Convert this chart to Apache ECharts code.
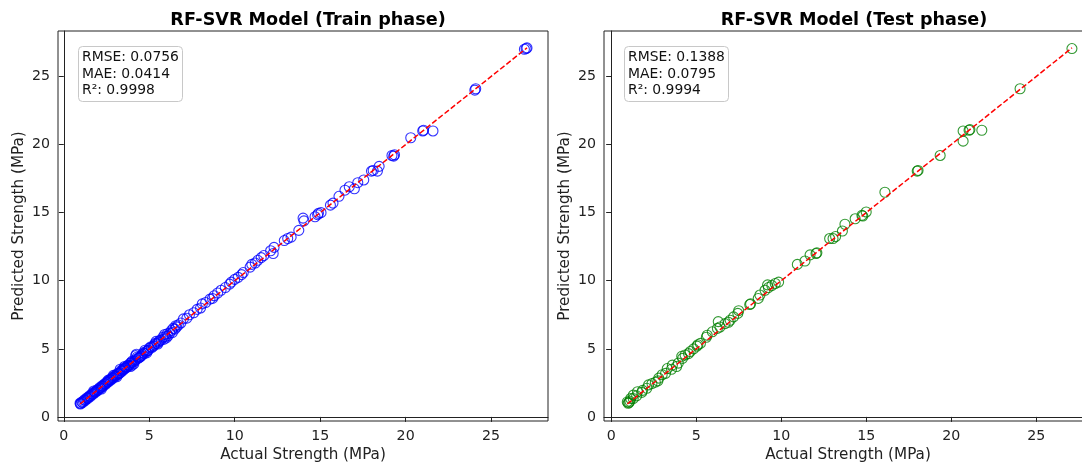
<!DOCTYPE html>
<html>
<head>
<meta charset="utf-8">
<title>RF-SVR Model</title>
<script src="https://cdn.jsdelivr.net/npm/echarts@6/dist/echarts.min.js"></script>
<style>
  html, body { margin: 0; padding: 0; background: #fff; }
  #main { width: 1082px; height: 462px; }
</style>
</head>
<body>
<div id="main"></div>
<script>
// [actual, predicted] pairs
var trainPoints = [
  [27.05,27.05],[27.1,27.1],[26.95,27.0],
  [24.05,24.0],[24.1,24.1],
  [21.0,21.0],[21.05,21.05],[21.6,21.0],[20.3,20.5],
  [19.2,19.2],[19.35,19.25],[19.3,19.15],
  [18.45,18.4],[18.35,18.05],[18.1,18.1],[18.0,18.05],
  [17.55,17.4],[17.2,17.2],[17.0,16.75],[16.7,16.9],[16.45,16.65],[16.1,16.2],
  [15.75,15.7],[15.6,15.55],[15.05,15.0],[14.9,14.95],[14.7,14.7],[14.85,14.85],
  [14.0,14.6],[14.05,14.4],[13.75,13.7],[13.1,13.1],[12.9,12.95],[13.3,13.2],
  [12.3,12.45],[12.1,12.2],[12.25,12.0],[11.55,11.7],[11.35,11.5],[11.0,11.2],[10.9,11.0],[11.7,11.85],[11.2,11.3],
  [10.5,10.6],[10.2,10.25],[10.4,10.45],[10.0,10.1],[9.8,9.9],[9.7,9.75],[9.45,9.5],[9.2,9.3],[9.0,9.1],
  [8.8,8.9],[8.7,8.7],[8.55,8.65],[8.3,8.4],[8.1,8.3],[8.0,8.0],[7.8,7.9],[7.6,7.65],[7.35,7.5],[7.2,7.25],[7.0,7.2],[6.85,6.9],
  [6.7,6.75],[6.6,6.6],[6.5,6.45],[6.4,6.5],[6.3,6.35],[6.2,6.15],[6.1,5.95],[6.05,6.1],[6.0,5.8],[5.95,5.9],
  [5.85,5.7],[5.8,5.85],[5.7,5.65],[5.6,5.6],[5.55,5.5],[5.5,5.35],[5.45,5.4],[5.35,5.4],[5.3,5.3],[5.25,5.2],
  [5.15,5.1],[5.1,5.15],[5.0,5.05],[4.95,4.9],[4.9,4.85],[4.8,4.8],[4.75,4.9],[4.7,4.65],[4.65,4.7],[4.6,4.6],
  [4.55,4.5],[4.5,4.45],[4.45,4.4],[4.4,4.35],[4.35,4.3],[4.3,4.4],[4.25,4.6],[4.2,4.2],[4.2,4.5],[4.15,4.1],
  [4.1,3.9],[4.05,4.0],[4.0,3.8],[4.0,4.1],[3.95,4.0],[3.9,3.95],[3.9,3.7],[3.85,3.8],[3.8,3.75],[3.75,3.8],
  [3.7,3.7],[3.65,3.6],[3.6,3.65],[3.55,3.55],[3.5,3.45],[3.45,3.5],[3.4,3.35],[3.35,3.4],[3.3,3.25],[3.3,3.5],
  [3.25,3.2],[3.2,3.15],[3.15,3.2],[3.1,3.1],[3.05,3.0],[3.0,3.05],[2.95,2.95],[2.9,2.85],[2.9,3.05],[2.85,2.9],
  [2.8,2.8],[2.75,2.7],[2.7,2.75],[2.65,2.65],[2.6,2.55],[2.55,2.6],[2.5,2.5],[2.45,2.4],[2.4,2.45],[2.35,2.35],
  [2.3,2.25],[2.25,2.3],[2.2,2.2],[2.15,2.1],[2.1,2.15],[2.05,2.05],[2.0,1.95],[1.95,2.0],[1.9,1.9],[1.85,1.8],
  [1.8,1.85],[1.75,1.75],[1.7,1.65],[1.65,1.7],[1.6,1.6],[1.55,1.5],[1.5,1.55],[1.45,1.45],[1.4,1.35],[1.35,1.4],
  [1.3,1.3],[1.25,1.2],[1.2,1.25],[1.15,1.15],[1.1,1.05],[1.05,1.1],[1.0,1.0],[0.95,1.0],[0.97,0.95],
  [5.9,6.05],[5.4,5.55],[4.85,4.7],[3.55,3.7],[3.1,2.95],[2.6,2.7],[2.2,2.05],[1.75,1.9],[6.55,6.7],[6.35,6.2]
];
var testPoints = [
  [27.1,27.05],
  [24.05,24.1],
  [20.7,21.0],[21.05,21.05],[21.1,21.1],[21.8,21.05],[20.7,20.25],
  [19.35,19.2],
  [18.0,18.05],[18.05,18.1],
  [16.1,16.5],
  [15.0,15.05],[14.75,14.8],[14.8,14.75],[14.35,14.55],[13.75,14.15],[13.6,13.65],[13.2,13.25],[13.05,13.1],[12.85,13.1],
  [12.1,12.05],[12.05,12.0],[11.7,11.9],[11.4,11.45],[10.95,11.2],
  [9.85,9.9],[9.65,9.8],[9.45,9.65],[9.2,9.7],[9.25,9.5],[9.05,9.3],[8.75,8.95],[8.65,8.7],[8.2,8.3],[8.15,8.25],
  [7.5,7.8],[7.45,7.6],[7.2,7.35],[7.0,7.1],[6.9,6.95],[6.7,6.85],[6.3,7.0],[6.25,6.5],[6.4,6.6],[5.95,6.25],[5.65,6.0],[5.6,5.85],
  [5.25,5.4],[5.1,5.3],[5.05,5.2],[4.85,5.0],[4.65,4.8],[4.55,4.65],[4.35,4.55],[4.2,4.3],[4.15,4.45],
  [3.95,3.95],[3.85,3.7],[3.6,3.8],[3.55,3.5],[3.3,3.55],[3.2,3.2],[3.0,3.1],[2.8,2.85],[2.75,2.65],[2.6,2.55],
  [2.4,2.45],[2.2,2.35],[2.1,2.1],[1.85,1.95],[1.8,1.8],[1.55,1.85],[1.5,1.55],[1.3,1.6],[1.3,1.35],[1.15,1.35],
  [1.1,1.15],[0.95,1.1],[1.0,1.0],[1.05,1.05]
];
var metricNames = ['RMSE', 'MAE', 'R²'];
var trainMetrics = ['0.0756', '0.0414', '0.9998'];
var testMetrics = ['0.1388', '0.0795', '0.9994'];
var tickValues = [0, 5, 10, 15, 20, 25];
var titles = ['RF-SVR Model (Train phase)', 'RF-SVR Model (Test phase)'];

(function (win) {
  var FONT = 'DejaVu Sans';
  var chart = {
    init: function () {
      this.myChart = echarts.init(document.getElementById('main'), null, {renderer: 'canvas'});
      this.myChart.setOption(this.buildOption());
    },
    // min and max of the actual values, used for the ideal line
    range: function (pts) {
      var lo = Infinity, hi = -Infinity;
      for (var i = 0; i < pts.length; i++) {
        lo = Math.min(lo, pts[i][0]);
        hi = Math.max(hi, pts[i][0]);
      }
      return [[lo, lo], [hi, hi]];
    },
    metricText: function (vals) {
      var lines = [];
      for (var i = 0; i < metricNames.length; i++) {
        lines.push(metricNames[i] + ': ' + vals[i]);
      }
      return lines.join('\n');
    },
    axis: function (idx, min, max, isX) {
      var a = {
        type: 'value',
        gridIndex: idx,
        min: min,
        max: max,
        splitLine: {show: false},
        axisLine: {show: true, lineStyle: {color: '#222', width: 1}},
        axisTick: {show: true, length: 5, lineStyle: {color: '#222'}, customValues: tickValues},
        axisLabel: {color: '#222', fontFamily: FONT, fontSize: 14.2, margin: 8, customValues: tickValues},
        name: isX ? 'Actual Strength (MPa)' : 'Predicted Strength (MPa)',
        nameLocation: 'middle',
        nameTextStyle: {color: '#222', fontFamily: FONT, fontSize: 15.2}
      };
      if (isX) {
        a.nameGap = 24;
      } else {
        a.nameGap = 31;
        a.nameRotate = 90;
      }
      return a;
    },
    scatter: function (idx, pts, color) {
      return {
        type: 'scatter',
        xAxisIndex: idx,
        yAxisIndex: idx,
        data: pts,
        symbol: 'circle',
        symbolSize: 10,
        silent: true,
        itemStyle: {color: 'rgba(0,0,0,0)', borderColor: color, borderWidth: 1.1, opacity: 0.8}
      };
    },
    ideal: function (idx, pts) {
      return {
        type: 'line',
        xAxisIndex: idx,
        yAxisIndex: idx,
        data: this.range(pts),
        symbol: 'none',
        silent: true,
        z: 5,
        lineStyle: {color: '#ff0000', width: 1.5, type: [5.5, 2.4]}
      };
    },
    buildOption: function () {
      var boxStyle = {
        color: '#111', fontFamily: FONT, fontSize: 13.9, fontWeight: 'normal', lineHeight: 16.7
      };
      var titleStyle = {fontFamily: FONT, fontSize: 17.6, fontWeight: 'bold', color: '#000'};
      return {
        backgroundColor: '#fff',
        animation: false,
        title: [
          {text: titles[0], left: 303, top: 6, textAlign: 'center', textStyle: titleStyle},
          {text: titles[1], left: 849, top: 6, textAlign: 'center', textStyle: titleStyle},
          {text: this.metricText(trainMetrics), left: 78, top: 46, padding: [3, 4, 3, 4],
            borderColor: '#c8c8c8', borderWidth: 1, borderRadius: 4, backgroundColor: '#fff', textStyle: boxStyle},
          {text: this.metricText(testMetrics), left: 624, top: 46, padding: [3, 4, 3, 4],
            borderColor: '#c8c8c8', borderWidth: 1, borderRadius: 4, backgroundColor: '#fff', textStyle: boxStyle}
        ],
        grid: [
          {left: 58, top: 31, width: 490, height: 390, show: true, borderColor: '#222', borderWidth: 1,
            backgroundColor: 'transparent', outerBoundsMode: 'none'},
          {left: 604, top: 31, width: 488, height: 390, show: true, borderColor: '#222', borderWidth: 1,
            backgroundColor: 'transparent', outerBoundsMode: 'none'}
        ],
        xAxis: [this.axis(0, -0.34, 28.33, true), this.axis(1, -0.42, 28.28, true)],
        yAxis: [this.axis(0, -0.3, 28.34, false), this.axis(1, -0.3, 28.34, false)],
        series: [
          this.scatter(0, trainPoints, '#0000ff'),
          this.ideal(0, trainPoints),
          this.scatter(1, testPoints, '#008000'),
          this.ideal(1, testPoints)
        ]
      };
    }
  };
  chart.init();
})(window);
</script>
</body>
</html>
